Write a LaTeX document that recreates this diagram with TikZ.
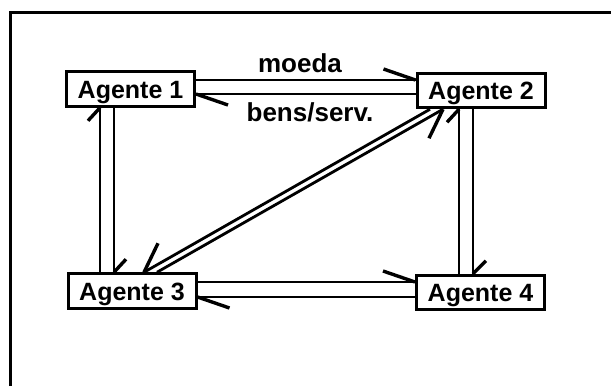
\documentclass[tikz,border=0pt]{standalone}
\usepackage{fontspec}
\setmainfont{Liberation Sans}
\begin{document}
\begin{tikzpicture}[x=1pt,y=-1pt,
  agent/.style={draw, line width=3pt, minimum width=128pt, minimum height=34.5pt,
    inner sep=0pt, text height=18pt, text depth=0pt,
    font=\fontsize{25}{25}\selectfont\bfseries},
  flow/.style={line width=2.8pt},
  barb/.style={line width=3.4pt},
  lbl/.style={font=\fontsize{26}{26}\selectfont\bfseries, inner sep=0pt, anchor=base},
  frame/.style={line width=3.2pt}]
\path[use as bounding box] (0,0) rectangle (611,386);
\draw[frame] (10.5,386) -- (10.5,12.5) -- (611,12.5);

\node[agent] (a1) at (130.5,89) {Agente 1};
\node[agent] (a2) at (481,90.5) {Agente 2};
\node[agent] (a3) at (132,291) {Agente 3};
\node[agent] (a4) at (480.5,292.5) {Agente 4};

\node[lbl] (moeda) at (300,72) {moeda};
\node[lbl] (bens) at (310,121) {bens/serv.};

% Agente 1 <-> Agente 2
\draw[flow] (a1.east |- 0,80) -- (a2.west |- 0,80) coordinate (t12);
\draw[barb] (t12) -- ++(-32,-11);
\draw[flow] (a2.west |- 0,94) -- (a1.east |- 0,94) coordinate (t21);
\draw[barb] (t21) -- ++(32,11);

% Agente 3 <-> Agente 4
\draw[flow] (a3.east |- 0,282) -- (a4.west |- 0,282) coordinate (t34);
\draw[barb] (t34) -- ++(-32,-11);
\draw[flow] (a4.west |- 0,297) -- (a3.east |- 0,297) coordinate (t43);
\draw[barb] (t43) -- ++(32,11);

% Agente 1 <-> Agente 3
\draw[flow] (a3.north -| 100,0) -- (a1.south -| 100,0) coordinate (t31);
\draw[barb] (t31) -- ++(-12,13);
\draw[flow] (a1.south -| 114,0) -- (a3.north -| 114,0) coordinate (t13);
\draw[barb] (t13) -- ++(12,-13);

% Agente 2 <-> Agente 4
\draw[flow] (a4.north -| 459,0) -- (a2.south -| 459,0) coordinate (t42);
\draw[barb] (t42) -- ++(-12,13);
\draw[flow] (a2.south -| 473,0) -- (a4.north -| 473,0) coordinate (t24);
\draw[barb] (t24) -- ++(13,-13);

% Agente 2 <-> Agente 3 (diagonal)
\draw[flow] (a2.south -| 430,0) -- (a3.north -| 144,0) coordinate (t23);
\draw[barb] (t23) -- ++(14,-29);
\draw[flow] (a3.north -| 157,0) -- (a2.south -| 443,0) coordinate (t32);
\draw[barb] (t32) -- ++(-14,29);
\end{tikzpicture}
\end{document}
